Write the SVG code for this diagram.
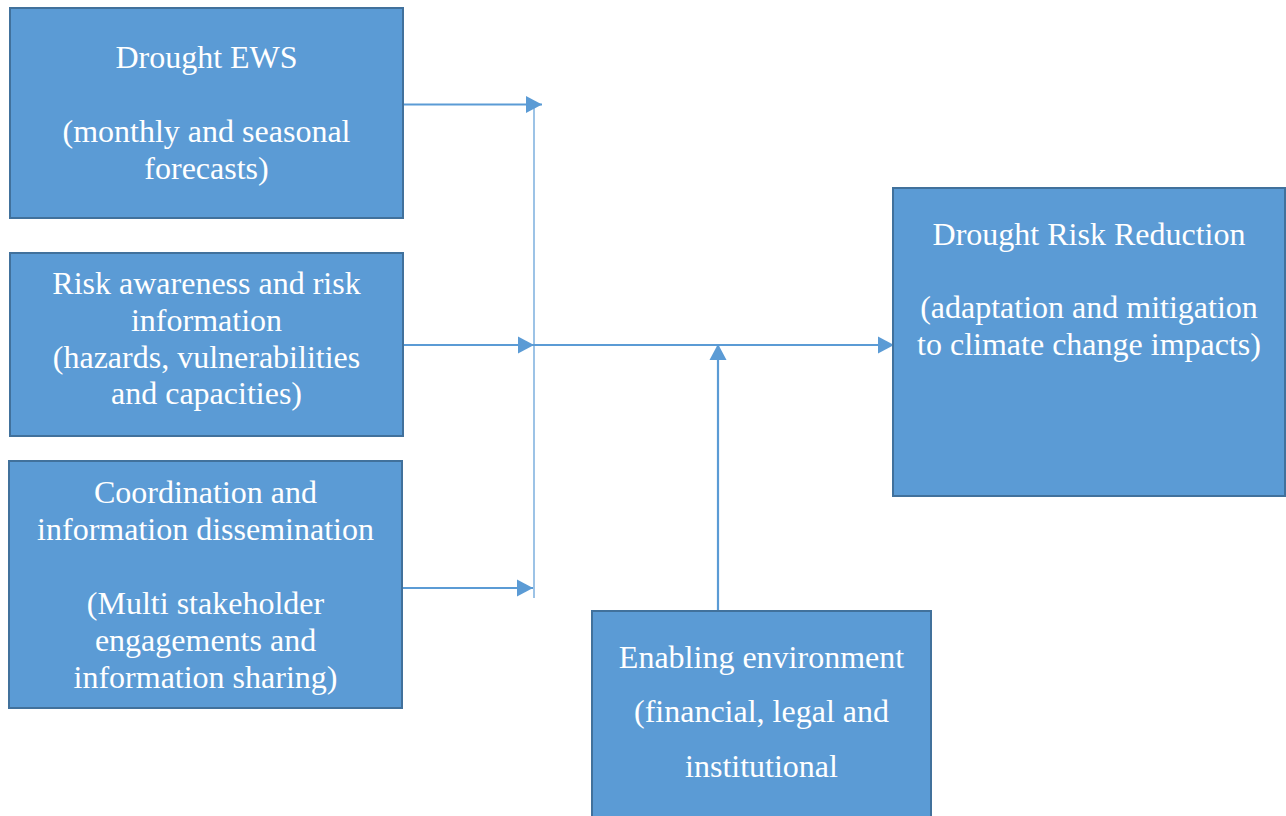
<svg xmlns="http://www.w3.org/2000/svg" width="1286" height="816" viewBox="0 0 1286 816">
<style>
.box{fill:#5B9BD5;stroke:#41719C;stroke-width:2}
text{font-family:'Liberation Serif','Times New Roman',Times,serif;font-size:32px;fill:#FFFFFF;text-anchor:middle}
.c{stroke:#5B9BD5;stroke-width:2.2;fill:none}
.thin{stroke:#5B9BD5;stroke-width:1.2;fill:none}
</style>
<defs>
<marker id="ah" markerUnits="userSpaceOnUse" markerWidth="17" markerHeight="20" viewBox="0 0 17 20" refX="16" refY="10" orient="auto">
<path d="M0,1.5 L16,10 L0,18.5 Z" fill="#5B9BD5"/>
</marker>
</defs>
<rect width="1286" height="816" fill="#FFFFFF"/>
<g id="connectors">
<line class="thin" x1="534" y1="108" x2="534" y2="598"/>
<line class="c" x1="403" y1="104.5" x2="542" y2="104.5" marker-end="url(#ah)"/>
<line class="c" x1="403" y1="345" x2="534" y2="345" marker-end="url(#ah)"/>
<line class="c" x1="534" y1="345" x2="894" y2="345" marker-end="url(#ah)"/>
<line class="c" x1="402" y1="588" x2="533" y2="588" marker-end="url(#ah)"/>
<line class="c" x1="718" y1="611" x2="718" y2="344" marker-end="url(#ah)"/>
</g>
<g id="drought-ews">
<rect class="box" x="10" y="8" width="393" height="210"/>
<text x="206.5" y="68">Drought EWS</text>
<text x="206.5" y="142">(monthly and seasonal</text>
<text x="206.5" y="179">forecasts)</text>
</g>
<g id="risk-awareness">
<rect class="box" x="10" y="253" width="393" height="183"/>
<text x="206.5" y="294">Risk awareness and risk</text>
<text x="206.5" y="331">information</text>
<text x="206.5" y="368">(hazards, vulnerabilities</text>
<text x="206.5" y="404">and capacities)</text>
</g>
<g id="coordination">
<rect class="box" x="9" y="461" width="393" height="247"/>
<text x="205.5" y="503">Coordination and</text>
<text x="205.5" y="540">information dissemination</text>
<text x="205.5" y="614">(Multi stakeholder</text>
<text x="205.5" y="651">engagements and</text>
<text x="205.5" y="688">information sharing)</text>
</g>
<g id="drought-risk-reduction">
<rect class="box" x="893" y="188" width="392" height="308"/>
<text x="1089" y="245">Drought Risk Reduction</text>
<text x="1089" y="318">(adaptation and mitigation</text>
<text x="1089" y="355">to climate change impacts)</text>
</g>
<g id="enabling-environment">
<rect class="box" x="592" y="611" width="339" height="210"/>
<text x="761.5" y="668">Enabling environment</text>
<text x="761.5" y="722">(financial, legal and</text>
<text x="761.5" y="777">institutional</text>
</g>
</svg>
